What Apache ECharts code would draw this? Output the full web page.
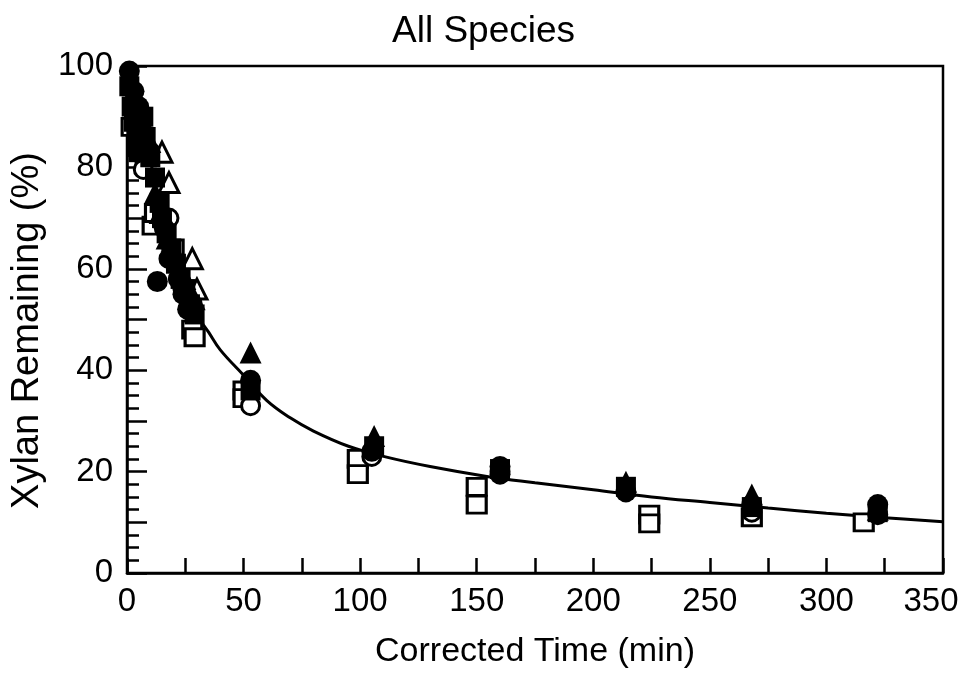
<!DOCTYPE html>
<html>
<head>
<meta charset="utf-8">
<title>All Species</title>
<script src="https://cdn.jsdelivr.net/npm/echarts@6/dist/echarts.min.js"></script>
<style>
  html, body { margin: 0; padding: 0; background: #fff; }
  #main { width: 967px; height: 680px; }
</style>
</head>
<body>
<div id="main"></div>
<script type="text/javascript">
// data: [corrected time (min), xylan remaining (%)]
var openSquare = [[2, 88], [5, 84], [8, 82], [11, 68.5], [12, 71], [20, 64], [28, 48], [29, 46.5],
  [50, 36], [50, 34.5], [99, 22.5], [99, 19.5], [150, 17], [150, 13.5], [224, 11.5], [224, 9.8],
  [268, 11], [316, 10]];
var filledCircle = [[1, 99], [3, 95], [5, 92], [6, 88], [8, 84], [13, 57.5], [16, 68], [18, 62],
  [22, 58], [24, 55], [26, 52], [28, 53], [53, 38], [105, 24], [160, 21], [160, 19.5], [214, 16],
  [268, 13.5], [322, 13.5], [322, 11.5]];
var openCircle = [[4, 90], [7, 79.6], [10, 83], [18, 70], [24, 56], [53, 33], [105, 23], [160, 20], [268, 12]];
var filledTriangle = [[2, 97], [4, 93], [6, 89], [10, 85], [12, 75], [14, 71], [17, 66], [20, 64],
  [23, 60], [25, 58], [29, 54], [53, 43.5], [106, 27], [214, 18], [268, 15.5], [322, 12.5]];
var openTriangle = [[6, 87], [15, 83], [18, 77], [28, 62], [30, 56]];
var filledSquare = [[1, 96], [2, 92], [3, 89], [4, 86], [5, 83], [7, 90], [8, 86], [10, 82], [12, 78],
  [14, 73], [15, 70], [17, 67], [19, 64], [21, 61], [23, 58], [25, 56], [27, 53], [29, 51],
  [53, 36], [106, 25], [160, 20.5], [214, 17], [268, 13], [322, 12]];
// fitted curve as drawn
var fitCurve = [[0, 97], [5, 88], [10, 79], [15, 71], [20, 64], [25, 57], [30, 51], [35, 47.5],
  [40, 44], [50, 39], [60, 34], [70, 30.6], [80, 28], [95, 25], [110, 23], [130, 21], [155, 19],
  [175, 17.8], [200, 16.4], [225, 15], [250, 13.9], [275, 12.8], [300, 11.8], [325, 10.9], [350, 10.1]];

var font = '"Liberation Sans", Arial, sans-serif';
var myChart = echarts.init(document.getElementById('main'));

function openStyle() {
  return { color: '#fff', borderColor: '#000', borderWidth: 3, opacity: 1 };
}
function filledStyle() {
  return { color: '#000', opacity: 1 };
}

var option = {
  backgroundColor: '#fff',
  animation: false,
  title: {
    text: 'All Species',
    left: 'center',
    top: 8,
    textStyle: { fontFamily: font, fontSize: 37, fontWeight: 'normal', color: '#000' }
  },
  grid: {
    left: 127, right: 24, top: 66, bottom: 107,
    outerBoundsMode: 'none',
    show: true, borderColor: '#000', borderWidth: 2.5
  },
  xAxis: {
    type: 'value',
    min: 0, max: 350, interval: 25,
    name: 'Corrected Time (min)',
    nameLocation: 'middle',
    nameGap: 62,
    nameTextStyle: { fontFamily: font, fontSize: 34, color: '#000' },
    axisLine: { lineStyle: { color: '#000', width: 2.5 } },
    axisTick: { inside: true, length: 15, lineStyle: { color: '#000', width: 2.5 } },
    axisLabel: {
      margin: 12, fontFamily: font, fontSize: 33, color: '#000',
      formatter: function (v) {
        if (v === 350) return '{r|350}';
        return v % 50 === 0 ? v : '';
      },
      rich: { r: { fontFamily: font, fontSize: 33, color: '#000', padding: [0, 24, 0, 0] } }
    },
    splitLine: { show: false }
  },
  yAxis: {
    type: 'value',
    min: 0, max: 100, interval: 10,
    name: 'Xylan Remaining (%)',
    nameLocation: 'middle',
    nameGap: 80,
    nameTextStyle: { fontFamily: font, fontSize: 38, color: '#000', padding: [0, 22, 0, 0] },
    axisLine: { show: true, lineStyle: { color: '#000', width: 2.5 } },
    axisTick: { inside: true, length: 20, lineStyle: { color: '#000', width: 2.5 } },
    minorTick: { show: true, splitNumber: 4, length: 12, lineStyle: { color: '#000', width: 2.5 } },
    axisLabel: {
      margin: 14, fontFamily: font, fontSize: 33, color: '#000',
      formatter: function (v) { return v % 20 === 0 ? v : ''; }
    },
    splitLine: { show: false }
  },
  series: [
    {
      name: 'fit', type: 'line', data: fitCurve, smooth: 0.4, showSymbol: false, z: 1,
      lineStyle: { color: '#000', width: 3 }
    },
    { name: 'open square', type: 'scatter', data: openSquare, symbol: 'rect', symbolSize: [19, 17], itemStyle: openStyle(), z: 2 },
    { name: 'open circle', type: 'scatter', data: openCircle, symbol: 'circle', symbolSize: 18, itemStyle: openStyle(), z: 2 },
    { name: 'open triangle', type: 'scatter', data: openTriangle, symbol: 'triangle', symbolSize: 20, itemStyle: openStyle(), z: 2 },
    { name: 'filled square', type: 'scatter', data: filledSquare, symbol: 'rect', symbolSize: 20, itemStyle: filledStyle(), z: 3 },
    { name: 'filled circle', type: 'scatter', data: filledCircle, symbol: 'circle', symbolSize: 21, itemStyle: filledStyle(), z: 3 },
    { name: 'filled triangle', type: 'scatter', data: filledTriangle, symbol: 'triangle', symbolSize: 22, itemStyle: filledStyle(), z: 3 }
  ]
};

myChart.setOption(option);
</script>
</body>
</html>
